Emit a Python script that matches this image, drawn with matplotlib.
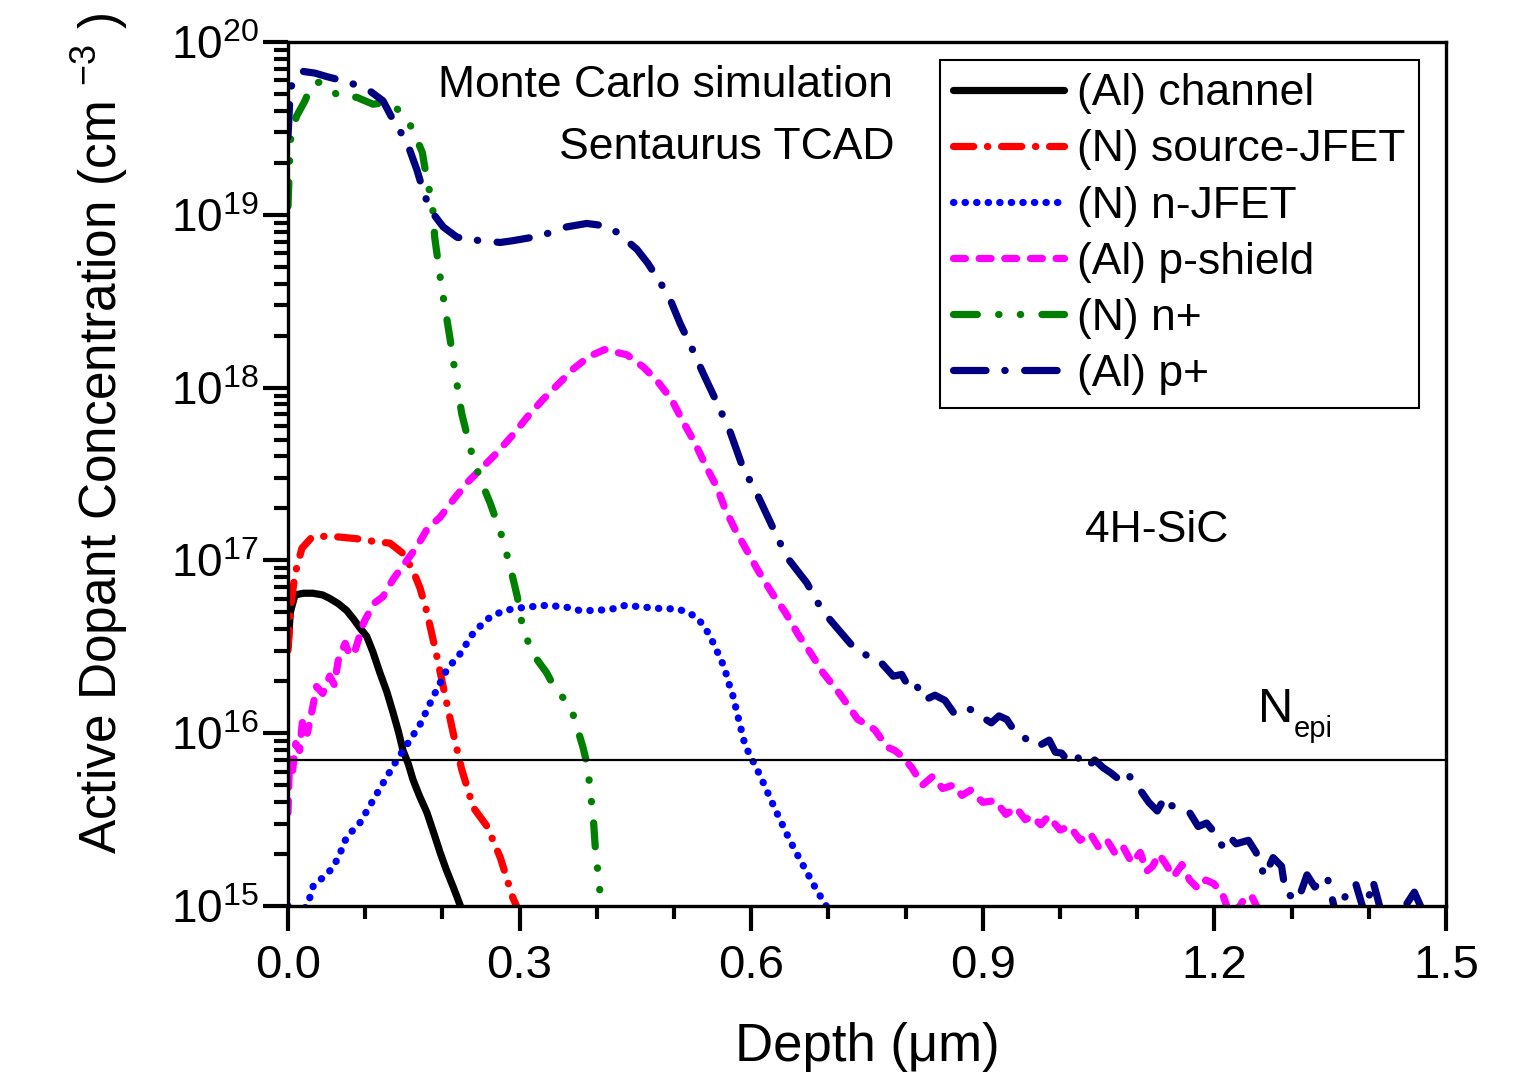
import numpy as np
import matplotlib
matplotlib.use('Agg')
from matplotlib import pyplot as plt
from matplotlib.ticker import LogLocator, MultipleLocator, NullFormatter

plt.rcParams['font.family'] = ['Liberation Sans', 'DejaVu Sans']
plt.rcParams['mathtext.fontset'] = 'custom'
plt.rcParams['mathtext.rm'] = 'Liberation Sans'
plt.rcParams['mathtext.it'] = 'Liberation Sans'
plt.rcParams['mathtext.default'] = 'regular'

# depth in um, log10 of active dopant concentration in cm^-3
channel_x = [0, 0.003, 0.009, 0.02, 0.032, 0.045, 0.054, 0.065, 0.076, 0.085, 0.093, 0.102, 0.11,
             0.119, 0.128, 0.136, 0.143, 0.149, 0.156, 0.162, 0.170, 0.180, 0.189, 0.197, 0.205,
             0.214, 0.220, 0.225]
channel_log = [16.5, 16.7, 16.80, 16.81, 16.81, 16.80, 16.78, 16.75, 16.71, 16.66, 16.61, 16.56,
               16.47, 16.35, 16.24, 16.12, 16.01, 15.90, 15.82, 15.73, 15.64, 15.54, 15.42, 15.31,
               15.21, 15.11, 15.04, 14.98]

source_x = [0, 0.004, 0.009, 0.018, 0.031, 0.05, 0.067, 0.09, 0.115, 0.132, 0.149, 0.162, 0.171,
            0.18, 0.193, 0.201, 0.214, 0.225, 0.240, 0.258, 0.275, 0.291, 0.298]
source_log = [16.48, 16.75, 16.92, 17.07, 17.135, 17.14, 17.135, 17.125, 17.107, 17.10, 17.04,
              16.94, 16.84, 16.70, 16.44, 16.27, 16.0, 15.79, 15.57, 15.46, 15.28, 15.05, 14.98]

njfet_x = [0.0, 0.01, 0.025, 0.033, 0.044, 0.058, 0.067, 0.076, 0.093, 0.106, 0.123, 0.141, 0.155,
           0.171, 0.188, 0.206, 0.223, 0.240, 0.258, 0.275, 0.291, 0.31, 0.335, 0.36, 0.378, 0.40,
           0.421, 0.437, 0.46, 0.486, 0.504, 0.517, 0.530, 0.540, 0.547, 0.553, 0.560, 0.566,
           0.570, 0.575, 0.592, 0.611, 0.631, 0.650, 0.663, 0.685, 0.70]
njfet_log = [15.0, 14.95, 15.0, 15.12, 15.16, 15.22, 15.30, 15.40, 15.48, 15.58, 15.71, 15.845,
             15.94, 16.05, 16.21, 16.37, 16.46, 16.58, 16.66, 16.70, 16.72, 16.73, 16.74, 16.73,
             16.71, 16.71, 16.72, 16.74, 16.73, 16.72, 16.72, 16.70, 16.67, 16.61, 16.56, 16.50,
             16.435, 16.37, 16.30, 16.24, 15.93, 15.76, 15.56, 15.38, 15.27, 15.09, 14.98]

shield_x = [0, 0.002, 0.005, 0.01, 0.015, 0.019, 0.025, 0.032, 0.037, 0.045, 0.054, 0.060, 0.065,
            0.074, 0.080, 0.087, 0.098, 0.111, 0.123, 0.136, 0.154, 0.167, 0.180, 0.197, 0.214,
            0.232, 0.25, 0.27, 0.29, 0.31, 0.33, 0.35, 0.37, 0.39, 0.41, 0.439, 0.46, 0.478, 0.497,
            0.512, 0.527, 0.542, 0.556, 0.566, 0.579, 0.594, 0.609, 0.627, 0.644, 0.661, 0.679,
            0.693, 0.716, 0.738, 0.750, 0.760, 0.776, 0.786, 0.797, 0.808, 0.822, 0.835, 0.848,
            0.862, 0.873, 0.884, 0.900, 0.916, 0.930, 0.943, 0.955, 0.964, 0.975, 0.985, 1.000,
            1.013, 1.026, 1.039, 1.050, 1.061, 1.072, 1.082, 1.093, 1.104, 1.112, 1.120, 1.128,
            1.136, 1.147, 1.158, 1.168, 1.179, 1.189, 1.199, 1.21, 1.22, 1.233, 1.241, 1.249, 1.26]
shield_log = [15.54, 15.85, 15.75, 15.94, 15.9, 16.08, 16.0, 16.15, 16.27, 16.23, 16.33, 16.28,
              16.42, 16.52, 16.45, 16.48, 16.64, 16.75, 16.79, 16.89, 17.0, 17.08, 17.18, 17.25,
              17.35, 17.45, 17.53, 17.62, 17.72, 17.83, 17.93, 18.02, 18.11, 18.18, 18.22, 18.19,
              18.12, 18.04, 17.93, 17.80, 17.68, 17.54, 17.42, 17.30, 17.18, 17.06, 16.94, 16.81,
              16.70, 16.57, 16.45, 16.35, 16.22, 16.08, 16.05, 16.02, 15.92, 15.90, 15.86, 15.80,
              15.70, 15.75, 15.68, 15.70, 15.64, 15.67, 15.60, 15.61, 15.53, 15.57, 15.50, 15.52,
              15.47, 15.52, 15.44, 15.46, 15.38, 15.42, 15.34, 15.38, 15.30, 15.34, 15.25, 15.31,
              15.20, 15.23, 15.30, 15.25, 15.17, 15.24, 15.15, 15.10, 15.15, 15.13, 15.075, 14.95,
              15.0, 15.06, 15.05, 14.95]

nplus_x = [0, 0.003, 0.011, 0.022, 0.031, 0.045, 0.067, 0.089, 0.110, 0.128, 0.149, 0.162, 0.174,
           0.180, 0.187, 0.190, 0.194, 0.199, 0.206, 0.210, 0.216, 0.225, 0.236, 0.249, 0.262,
           0.277, 0.288, 0.297, 0.304, 0.317, 0.335, 0.348, 0.365, 0.374, 0.382, 0.389, 0.391,
           0.395, 0.398, 0.402, 0.406]
nplus_log = [19.05, 19.43, 19.57, 19.66, 19.76, 19.77, 19.68, 19.68, 19.64, 19.65, 19.59, 19.49,
             19.36, 19.20, 19.07, 18.87, 18.74, 18.58, 18.39, 18.28, 18.10, 17.85, 17.65, 17.47,
             17.33, 17.14, 16.96, 16.79, 16.61, 16.46, 16.35, 16.24, 16.17, 16.04, 15.92, 15.79,
             15.67, 15.54, 15.34, 15.17, 15.0]

pplus_x = [0, 0.003, 0.01, 0.019, 0.035, 0.050, 0.076, 0.102, 0.123, 0.136, 0.154, 0.167, 0.175,
           0.184, 0.201, 0.219, 0.249, 0.275, 0.291, 0.317, 0.343, 0.361, 0.387, 0.404, 0.426,
           0.452, 0.466, 0.482, 0.495, 0.508, 0.523, 0.538, 0.557, 0.573, 0.589, 0.607, 0.628,
           0.646, 0.672, 0.692, 0.711, 0.732, 0.745, 0.758, 0.770, 0.784, 0.795, 0.806, 0.815,
           0.824, 0.838, 0.851, 0.862, 0.875, 0.889, 0.900, 0.911, 0.921, 0.931, 0.940, 0.948,
           0.960, 0.970, 0.986, 0.994, 1.002, 1.012, 1.023, 1.034, 1.045, 1.056, 1.066, 1.077,
           1.088, 1.096, 1.104, 1.115, 1.126, 1.136, 1.145, 1.153, 1.168, 1.179, 1.190, 1.201,
           1.211, 1.220, 1.228, 1.244, 1.254, 1.265, 1.276, 1.287, 1.292, 1.308, 1.320, 1.330,
           1.346, 1.36, 1.372, 1.383, 1.395, 1.405, 1.42, 1.44, 1.459, 1.469]
pplus_log = [19.45, 19.73, 19.80, 19.83, 19.82, 19.80, 19.77, 19.73, 19.66, 19.55, 19.42, 19.26,
             19.14, 19.03, 18.93, 18.87, 18.85, 18.84, 18.85, 18.87, 18.90, 18.93, 18.95, 18.94,
             18.90, 18.80, 18.72, 18.61, 18.51, 18.37, 18.23, 18.08, 17.90, 17.74, 17.54, 17.39,
             17.19, 17.02, 16.87, 16.71, 16.61, 16.50, 16.47, 16.41, 16.40, 16.33, 16.34, 16.25,
             16.27, 16.19, 16.22, 16.19, 16.12, 16.15, 16.13, 16.09, 16.06, 16.10, 16.08, 16.02,
             16.0, 15.95, 15.92, 15.96, 15.89, 15.885, 15.83, 15.86, 15.80, 15.845, 15.80, 15.77,
             15.73,
             15.77, 15.70, 15.67, 15.60, 15.55, 15.63, 15.58, 15.57, 15.54, 15.46, 15.48, 15.42,
             15.34, 15.40, 15.36, 15.38, 15.31, 15.17, 15.28, 15.23, 15.08, 15.03, 15.18, 15.11,
             15.17, 14.9, 15.10, 15.13, 14.95, 15.15, 14.9, 14.95, 15.08, 14.98]

n_epi = 7e15

labels = ['(Al) channel', '(N) source-JFET', '(N) n-JFET', '(Al) p-shield', '(N) n+', '(Al) p+']
colors = ['black', '#ff0000', '#0000ff', '#ff00ff', '#008000', '#000080']
dashes = [None, [2.8, 1.9, 0.05, 1.9], [0.05, 1.55], [1.65, 1.9],
          [3.3, 2.95, 0.05, 2.95, 0.05, 2.95], [4.5, 2.6, 0.05, 2.7]]
series = [(channel_x, channel_log), (source_x, source_log), (njfet_x, njfet_log),
          (shield_x, shield_log), (nplus_x, nplus_log), (pplus_x, pplus_log)]

fig = plt.figure(figsize=(15.39, 10.79), dpi=100)
ax = fig.add_axes([288 / 1539, 1 - 906 / 1079, (1446 - 288) / 1539, (906 - 42) / 1079])

for (xs, ls), lab, c, d in zip(series, labels, colors, dashes):
    line, = ax.plot(xs, np.power(10.0, ls), color=c, lw=5.2, label=lab,
                    solid_capstyle='round', dash_capstyle='round', solid_joinstyle='round')
    if d is not None:
        line.set_dashes(d)

ax.axhline(n_epi, color='black', lw=1.6)

ax.set_yscale('log')
ax.set_xlim(0, 1.5)
ax.set_ylim(1e15, 1e20)
ax.xaxis.set_major_locator(MultipleLocator(0.3))
ax.xaxis.set_minor_locator(MultipleLocator(0.1))
ax.xaxis.set_major_formatter(plt.FuncFormatter(lambda v, p: '%.1f' % v))
ax.yaxis.set_major_locator(LogLocator(base=10, numticks=10))
ax.yaxis.set_minor_locator(LogLocator(base=10, subs=np.arange(2, 10), numticks=20))
ax.yaxis.set_minor_formatter(NullFormatter())
ax.yaxis.set_major_formatter(plt.FuncFormatter(lambda v, p: r'$10^{%d}$' % round(np.log10(v))))

ax.tick_params(axis='x', which='major', direction='out', length=18, width=3, labelsize=34, pad=9)
ax.tick_params(axis='x', which='minor', direction='out', length=9, width=3)
ax.tick_params(axis='y', which='major', direction='out', length=18, width=3, labelsize=33, pad=3)
ax.tick_params(axis='y', which='minor', direction='out', length=10, width=3)
for s in ax.spines.values():
    s.set_linewidth(2.4)

ax.set_xlabel('Depth (μm)', fontsize=38, labelpad=25)
fig.text(100 / 1539, 1 - 433 / 1079, r'Active Dopant Concentration (cm $^{-3}$ )',
         rotation=90, fontsize=37, ha='center', va='center')

ax.text(0.1295, 0.950, 'Monte Carlo simulation', transform=ax.transAxes, fontsize=32,
        ha='left', va='center')
ax.text(0.524, 0.878, 'Sentaurus TCAD', transform=ax.transAxes, fontsize=32,
        ha='right', va='center')
ax.text(0.688, 0.435, '4H-SiC', transform=ax.transAxes, fontsize=32, ha='left', va='center')
ax.text(0.8377, 0.213, 'N', transform=ax.transAxes, fontsize=35, ha='left', va='baseline')
ax.text(0.8687, 0.1956, 'epi', transform=ax.transAxes, fontsize=21, ha='left', va='baseline')

leg = ax.legend(loc='upper right', bbox_to_anchor=(1419 / 1539, 1 - 60 / 1079),
                bbox_transform=fig.transFigure, fontsize=32, handlelength=2.5,
                handletextpad=0.3, labelspacing=0.34, borderpad=0.3, borderaxespad=0,
                fancybox=False, framealpha=1)
leg.get_frame().set_edgecolor('black')
leg.get_frame().set_linewidth(1.5)

plt.savefig('out.png', dpi=100)
